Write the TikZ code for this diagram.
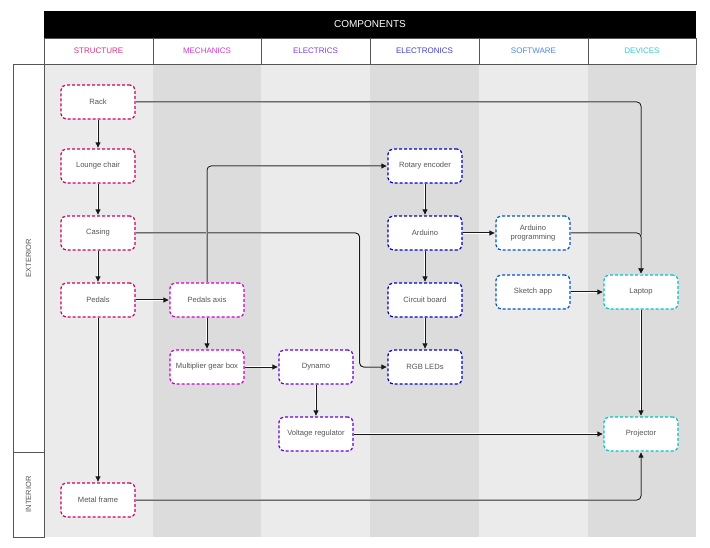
\documentclass[tikz,border=0pt]{standalone}
\usepackage{fontspec}
\setmainfont{Liberation Sans}
\usetikzlibrary{arrows.meta,calc}
\definecolor{cStruct}{HTML}{CC0066}
\definecolor{cMech}{HTML}{CC00CC}
\definecolor{cElec}{HTML}{6A00D6}
\definecolor{cElnx}{HTML}{0000C8}
\definecolor{cSoft}{HTML}{0055CC}
\definecolor{cDev}{HTML}{00C4C4}
\definecolor{hStruct}{HTML}{E0307F}
\definecolor{hMech}{HTML}{D23CD2}
\definecolor{hElec}{HTML}{8040E0}
\definecolor{hElnx}{HTML}{4040D0}
\definecolor{hSoft}{HTML}{4A88E0}
\definecolor{hDev}{HTML}{33CCCC}
\definecolor{laneA}{HTML}{EBEBEB}
\definecolor{laneB}{HTML}{DCDCDC}
\definecolor{frameC}{HTML}{555555}
\definecolor{txtC}{HTML}{555555}
\tikzset{
  nd/.style={rectangle, rounded corners=5pt, fill=white, dash pattern=on 3pt off 2pt,
    line width=1.2pt, minimum width=74pt, minimum height=34pt, inner sep=1pt,
    align=center, text=txtC, font=\fontsize{7.6}{8.6}\selectfont},
  arr/.style={draw=black!90, line width=1pt, rounded corners=4pt,
    -{Latex[length=6pt,width=5.5pt]},
    preaction={draw=white, line width=1.9pt, -}},
  hcell/.style={draw=frameC, line width=0.9pt, fill=white},
  htxt/.style={font=\fontsize{8}{9.5}\selectfont},
}
\begin{document}
\begin{tikzpicture}[x=1pt,y=-1pt]
\useasboundingbox[fill=white] (0,0) rectangle (710,548);
% lanes
\fill[laneA] (44,64) rectangle (153,537);
\fill[laneB] (153,64) rectangle (261,537);
\fill[laneA] (261,64) rectangle (370,537);
\fill[laneB] (370,64) rectangle (479,537);
\fill[laneA] (479,64) rectangle (588,537);
\fill[laneB] (588,64) rectangle (696,537);
% header
\fill[black] (44,11) rectangle (696,38);
\node[text=white, font=\fontsize{10}{12}\selectfont] (comp) at (370,24.5) {COMPONENTS};
\draw[hcell] (44,38) rectangle (153,64);
\draw[hcell] (153,38) rectangle (261,64);
\draw[hcell] (261,38) rectangle (370,64);
\draw[hcell] (370,38) rectangle (479,64);
\draw[hcell] (479,38) rectangle (588,64);
\draw[hcell] (588,38) rectangle (696,64);
\node[htxt, text=hStruct] (hs) at (98.5,51) {STRUCTURE};
\node[htxt, text=hMech] (hm) at (207,51) {MECHANICS};
\node[htxt, text=hElec] (he) at (315.5,51) {ELECTRICS};
\node[htxt, text=hElnx] (hx) at (424.5,51) {ELECTRONICS};
\node[htxt, text=hSoft] (hw) at (533.5,51) {SOFTWARE};
\node[htxt, text=hDev] (hd) at (642,51) {DEVICES};
% row labels
\draw[hcell] (13,64) rectangle (44,452);
\draw[hcell] (13,452) rectangle (44,537);
\node[rotate=90, text=txtC, font=\fontsize{7.5}{9}\selectfont] (ext) at (28.5,258) {EXTERIOR};
\node[rotate=90, text=txtC, font=\fontsize{7.5}{9}\selectfont] (int) at (28.5,494.5) {INTERIOR};
% nodes
\node[nd, draw=cStruct] (rack) at (98,102) {Rack};
\node[nd, draw=cStruct] (lounge) at (98,166) {Lounge chair};
\node[nd, draw=cStruct] (casing) at (98,233) {Casing};
\node[nd, draw=cStruct] (pedals) at (98,300) {Pedals};
\node[nd, draw=cStruct] (metal) at (98,500) {Metal frame};
\node[nd, draw=cMech] (paxis) at (207,300) {Pedals axis};
\node[nd, draw=cMech] (gear) at (207,367) {Multiplier gear box};
\node[nd, draw=cElec] (dynamo) at (316,367) {Dynamo};
\node[nd, draw=cElec] (volt) at (316,434) {Voltage regulator};
\node[nd, draw=cElnx] (rotary) at (425,166) {Rotary encoder};
\node[nd, draw=cElnx] (arduino) at (425,233) {Arduino};
\node[nd, draw=cElnx] (board) at (425,300) {Circuit board};
\node[nd, draw=cElnx] (rgb) at (425,367) {RGB LEDs};
\node[nd, draw=cSoft] (aprog) at (533,233) {Arduino\\programming};
\node[nd, draw=cSoft] (sketch) at (533,292) {Sketch app};
\node[nd, draw=cDev] (laptop) at (641,292) {Laptop};
\node[nd, draw=cDev] (proj) at (641,434) {Projector};
% edges
\draw[arr] (rack.east) -| (laptop.north);
\draw[arr] (rack) -- (lounge);
\draw[arr] (lounge) -- (casing);
\draw[arr] (casing) -- (pedals);
\draw[arr] (pedals) -- (metal);
\draw[arr] (casing.east) -- ++(224,0) |- (rgb.west);
\draw[arr] (pedals) -- (paxis);
\draw[arr] (paxis.north) |- (rotary.west);
\draw[arr] (paxis) -- (gear);
\draw[arr] (gear) -- (dynamo);
\draw[arr] (dynamo) -- (volt);
\draw[arr] (volt) -- (proj);
\draw[arr] (rotary) -- (arduino);
\draw[arr] (arduino) -- (board);
\draw[arr] (board) -- (rgb);
\draw[arr] (arduino) -- (aprog);
\draw[arr] (aprog.east) -| (laptop.north);
\draw[arr] (sketch) -- (laptop);
\draw[arr] (laptop) -- (proj);
\draw[arr] (metal.east) -| (proj.south);
\end{tikzpicture}
\end{document}
